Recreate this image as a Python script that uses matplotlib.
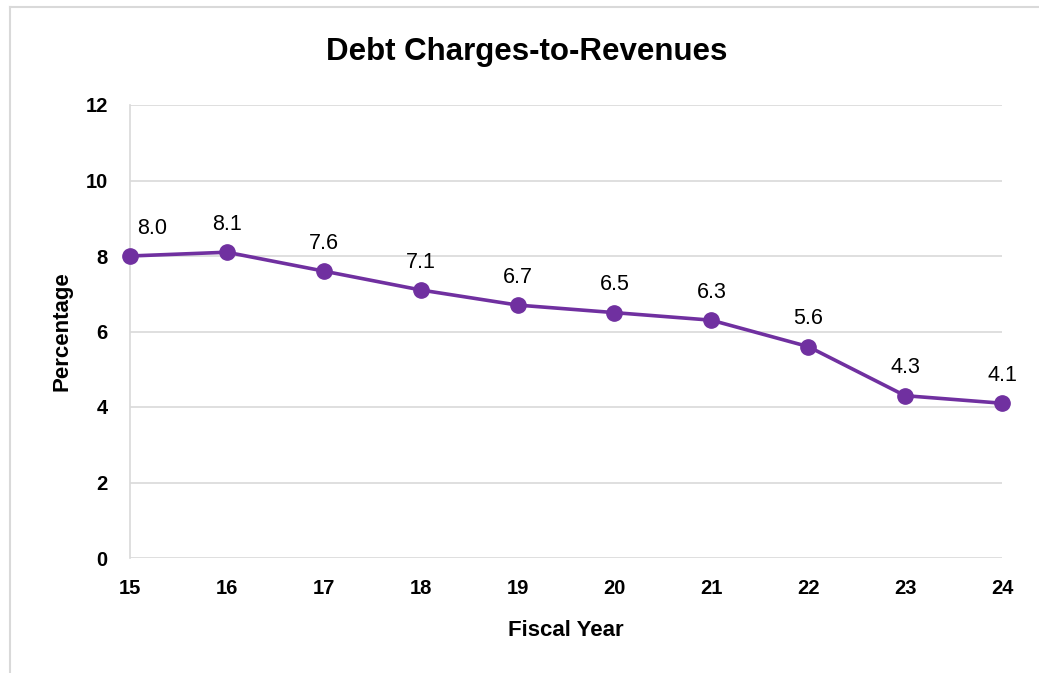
import matplotlib.pyplot as plt
from matplotlib.lines import Line2D

# data
years = [15, 16, 17, 18, 19, 20, 21, 22, 23, 24]
debt_ratio = [8.0, 8.1, 7.6, 7.1, 6.7, 6.5, 6.3, 5.6, 4.3, 4.1]
yticks = [0, 2, 4, 6, 8, 10, 12]

purple = '#7030A0'
grid_col = '#D9D9D9'

plt.rcParams['font.family'] = ['Liberation Sans', 'DejaVu Sans']

fig = plt.figure(figsize=(10.39, 6.73), dpi=100)
W, H = 1039, 673
ax = fig.add_axes([130 / W, 1 - 558 / H, 872 / W, 453 / H])

# outer chart border (cut off at right/bottom like the screenshot)
fig.add_artist(Line2D([10 / W, 10 / W], [0, 1 - 7 / H], color=grid_col, lw=1.5))
fig.add_artist(Line2D([10 / W, 1], [1 - 7 / H, 1 - 7 / H], color=grid_col, lw=1.5))

ax.plot(years, debt_ratio, color=purple, lw=2.6, marker='o', ms=11, zorder=3,
        clip_on=False)
for i, (x, y) in enumerate(zip(years, debt_ratio)):
    # first label is pushed inside the plot area, like Excel does
    dx = 16 if i == 0 else 0
    ax.annotate('%.1f' % y, (x, y), xytext=(dx, 20), textcoords='offset points',
                ha='center', va='center', fontsize=15.5, color='black')

ax.set_xlim(15, 24)
ax.set_ylim(0, 12)
ax.set_xticks(years)
ax.set_yticks(yticks)
ax.grid(axis='y', color=grid_col, lw=1.2)
ax.set_axisbelow(True)
for s in ['top', 'right', 'bottom']:
    ax.spines[s].set_visible(False)
ax.spines['left'].set_color(grid_col)
ax.spines['left'].set_linewidth(1.2)
ax.tick_params(length=0)
ax.tick_params(axis='x', pad=15)
ax.tick_params(axis='y', pad=16)
for lab in ax.get_xticklabels() + ax.get_yticklabels():
    lab.set_fontweight('bold')
    lab.set_fontsize(14.5)

ax.set_xlabel('Fiscal Year', fontsize=16, fontweight='bold', labelpad=16)
ax.set_ylabel('Percentage', fontsize=16, fontweight='bold', labelpad=9)
fig.text(527 / W, 1 - 52 / H, 'Debt Charges-to-Revenues', ha='center',
         va='center', fontsize=22.5, fontweight='bold')

fig.savefig('out.png', dpi=100)
